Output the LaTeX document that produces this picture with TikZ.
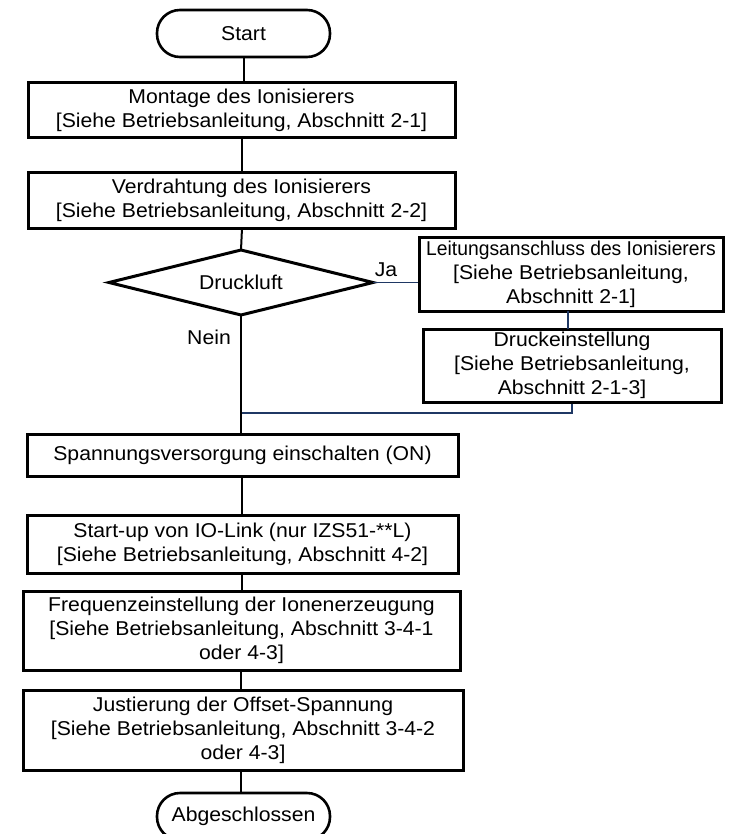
\documentclass[tikz,border=0pt]{standalone}
\usepackage{fontspec}
\setmainfont{Liberation Sans}[FakeStretch=1.06]
\usetikzlibrary{shapes.geometric,calc}
\definecolor{lineblue}{RGB}{31,56,100}
\begin{document}
\begin{tikzpicture}[x=1pt,y=-1pt,
  every node/.style={font=\fontsize{20}{24}\selectfont, inner sep=0pt},
  box/.style={draw, line width=3pt, rectangle, align=center},
  term/.style={draw, line width=2.6pt, rectangle, rounded corners=23pt, minimum width=173pt, minimum height=47pt},
  conn/.style={line width=2pt},
  bconn/.style={line width=1.6pt, draw=lineblue},
  lbl/.style={font=\fontsize{20}{22}\selectfont}]
\useasboundingbox (0,0) rectangle (728,834);
\clip (0,0) rectangle (728,834);
\fill[white] (0,0) rectangle (728,834);

\node[term] (start) at (243.5,33.5) {Start};
\node[box, minimum width=427pt, minimum height=55pt] (b1) at (241.5,110.5) {Montage des Ionisierers\\{}[Siehe Betriebsanleitung, Abschnitt 2-1]};
\node[box, minimum width=427pt, minimum height=55pt] (b2) at (241.5,200.5) {Verdrahtung des Ionisierers\\{}[Siehe Betriebsanleitung, Abschnitt 2-2]};
\coordinate (diaT) at (241,250);
\coordinate (diaB) at (241,315);
\coordinate (diaL) at (109,282.5);
\coordinate (diaR) at (373,282.5);
\draw[line width=3pt, line join=miter] (diaL) -- (diaT) -- (diaR) -- (diaB) -- cycle;
\node (dia) at (241,282) {Druckluft};
\node[box, minimum width=304pt, minimum height=74pt] (bl) at (571,274) {\scalebox{0.91}[1]{Leitungsanschluss des Ionisierers}\\{}[Siehe Betriebsanleitung,\\Abschnitt 2-1]};
\node[box, minimum width=298pt, minimum height=73pt] (bd) at (572,365.5) {Druckeinstellung\\{}[Siehe Betriebsanleitung,\\Abschnitt 2-1-3]};
\node[box, minimum width=431pt, minimum height=42pt] (b3) at (242.5,455) {Spannungsversorgung einschalten (ON)};
\node[box, minimum width=431pt, minimum height=58pt] (b4) at (242.5,544) {Start-up von IO-Link (nur IZS51-**L)\\{}[Siehe Betriebsanleitung, Abschnitt 4-2]};
\node[box, minimum width=437pt, minimum height=79pt] (b5) at (241.5,630.5) {Frequenzeinstellung der Ionenerzeugung\\{}[Siehe Betriebsanleitung, Abschnitt 3-4-1\\oder 4-3]};
\node[box, minimum width=440pt, minimum height=80pt] (b6) at (243,730) {Justierung der Offset-Spannung\\{}[Siehe Betriebsanleitung, Abschnitt 3-4-2\\oder 4-3]};
\node[term] (end) at (243.5,816.5) {Abgeschlossen};
\coordinate (m) at (242,413);

\node[lbl] (ja) at (386,270) {Ja};
\node[lbl] (nein) at (209,337) {Nein};

\draw[conn] (start.south) -- (start.south |- b1.north);
\draw[conn] (242,138) -- (242,173);
\draw[conn] (242,228) -- (diaT);
\draw[conn] (diaB) -- (241,434);
\draw[bconn] (diaR) -- (diaR -| bl.west);
\draw[bconn] (568,311) -- (568,329);
\draw[bconn] (bd.south) -- (bd.south |- m) -- (m);
\draw[conn] (242,476) -- (242,515);
\draw[conn] (242,573) -- (242,591);
\draw[conn] (241,670) -- (241,690);
\draw[conn] (241,770) -- (241,793);
\end{tikzpicture}
\end{document}
